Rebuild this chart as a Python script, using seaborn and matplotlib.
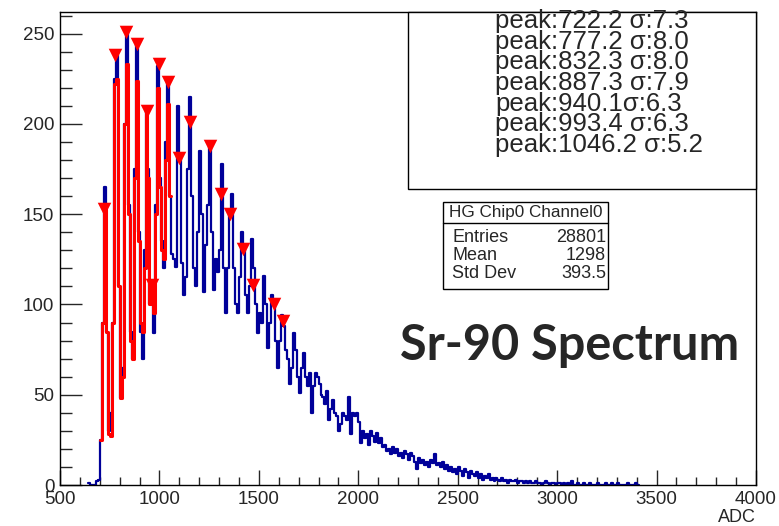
import numpy as np
import pandas as pd
import matplotlib
matplotlib.use('Agg')
import matplotlib.pyplot as plt
import seaborn as sns
from matplotlib.patches import Rectangle
from matplotlib.lines import Line2D

# ---------------- data ----------------
bin_start = 640
bin_width = 10
counts = [1, 0, 0, 0, 2, 3,
          25, 90, 165, 85, 30, 40, 90, 225, 238, 110,
          48, 65, 200, 251, 155, 85, 70, 175, 244, 140,
          85, 70, 130, 207, 175, 100, 111, 84, 155, 232,
          170, 135, 120, 190, 223, 160, 128, 125, 121, 210,
          181, 123, 105, 115, 175, 215, 160, 120, 110, 140,
          185, 150, 107, 133, 155, 188, 140, 108, 125, 118,
          130, 178, 120, 95, 120, 150, 161, 120, 100, 95,
          115, 140, 131, 105, 95, 110, 136, 120, 100, 84,
          95, 90, 116, 100, 76, 90, 105, 100, 80, 65,
          80, 94, 88, 75, 70, 56, 65, 84, 75, 60,
          51, 65, 73, 60, 55, 62, 40, 55, 62, 60,
          56, 50, 49, 45, 52, 36, 42, 47, 40, 38,
          30, 34, 40, 38, 36, 49, 28, 40, 38, 40,
          35, 23, 30, 26, 28, 22, 30, 27, 24, 29,
          23, 26, 21, 22, 19, 20, 17, 21, 18, 20,
          16, 18, 15, 19, 17, 14, 18, 16, 13, 9,
          15, 12, 14, 11, 13, 10, 14, 12, 17, 11,
          12, 10, 13, 9, 11, 8, 10, 7, 9, 6,
          10, 8, 5, 9, 7, 4, 8, 6, 5, 7,
          4, 6, 3, 5, 4, 6, 3, 4, 2, 4,
          3, 2, 4, 2, 3, 1, 3, 2, 2, 3,
          1, 2, 2, 1, 2, 1, 2, 1, 1, 2,
          1, 1, 0, 1, 2, 1, 0, 1, 1, 0,
          1, 1, 0, 1, 0, 1, 0, 2, 0, 0,
          1, 0, 0, 1, 0, 0, 1, 0, 0, 0,
          1, 0, 0, 0, 1, 0, 0, 1, 0, 0,
          1, 0, 0, 0, 0, 1, 0, 0, 0, 1,
          0]

fit_start = 700
fit_counts = [25, 90, 153, 85, 28, 27, 90, 222, 225, 110,
              48, 60, 200, 233, 150, 80, 70, 170, 224, 135,
              90, 85, 120, 207, 170, 100, 111, 95, 150, 220,
              165, 130, 125, 180, 211, 160]

peak_x = [719, 778, 830, 887, 940, 963, 996, 1045, 1098, 1155,
          1254, 1312, 1355, 1419, 1469, 1576, 1620]
peak_y = [153, 238, 251, 244, 207, 111, 233, 223, 181, 201,
          188, 161, 150, 131, 111, 100, 91]

fit_lines = ["peak:722.2 σ:7.3", "peak:777.2 σ:8.0", "peak:832.3 σ:8.0",
             "peak:887.3 σ:7.9", "peak:940.1σ:6.3", "peak:993.4 σ:6.3",
             "peak:1046.2 σ:5.2"]
stats_title = "HG Chip0 Channel0"
stats_names = ["Entries", "Mean", "Std Dev"]
stats_values = ["28801", "1298", "393.5"]

x_major = [500, 1000, 1500, 2000, 2500, 3000, 3500, 4000]
y_major = [0, 50, 100, 150, 200, 250]

# ---------------- figure ----------------
sns.set_style('ticks')
plt.rcParams['font.family'] = ['Liberation Sans', 'DejaVu Sans']

W, H = 779, 526
fig = plt.figure(figsize=(W / 100, H / 100), dpi=100)
ax = fig.add_axes([60 / W, 1 - 485 / H, 696 / W, 473 / H])


def fx(px):
    return px / W


def fy(py):
    return 1 - py / H


edges = [float(bin_start + bin_width * i) for i in range(len(counts) + 1)]
df = pd.DataFrame({'adc': [e + bin_width / 2 for e in edges[:-1]],
                   'n': [float(c) for c in counts]})
sns.histplot(data=df, x='adc', weights='n', bins=edges, element='step', fill=False,
             color='#000099', linewidth=1.6, ax=ax, zorder=2)

fedges = [float(fit_start + bin_width * i) for i in range(len(fit_counts) + 1)]
dff = pd.DataFrame({'adc': [e + bin_width / 2 for e in fedges[:-1]],
                    'n': [float(c) for c in fit_counts]})
sns.histplot(data=dff, x='adc', weights='n', bins=fedges, element='step', fill=False,
             color='#ff0000', linewidth=2.2, ax=ax, zorder=3)

dfp = pd.DataFrame({'x': peak_x, 'y': peak_y})
sns.scatterplot(data=dfp, x='x', y='y', marker='v', s=95, color='#ff0000',
                linewidth=0, ax=ax, zorder=5, legend=False)

ax.set_xlim(500, 4000)
ax.set_ylim(0, 262)
ax.set_xlabel('')
ax.set_ylabel('')
ax.set_xticks(x_major)
ax.set_xticks(np.arange(500, 4001, 100), minor=True)
ax.set_yticks(y_major)
ax.set_yticks(np.arange(0, 261, 10), minor=True)
ax.set_xticklabels([str(v) for v in x_major])
ax.set_yticklabels([str(v) for v in y_major])
ax.tick_params(axis='x', which='major', direction='in', length=11, width=1, labelsize=13.5, pad=4)
ax.tick_params(axis='x', which='minor', direction='in', length=5.8, width=1)
ax.tick_params(axis='y', which='major', direction='in', length=15.5, width=1, labelsize=13.5, pad=4)
ax.tick_params(axis='y', which='minor', direction='in', length=8.5, width=1)
for s in ax.spines.values():
    s.set_visible(True)
    s.set_color('black')
    s.set_linewidth(1.0)

fig.text(fx(756), fy(518), 'ADC', ha='right', va='center', fontsize=13)

# fit result box
fig.add_artist(Rectangle((fx(408), fy(189)), (756 - 408) / W, (189 - 12) / H,
                         transform=fig.transFigure, facecolor='white',
                         edgecolor='black', linewidth=1.0, zorder=3))
base0 = 28.3
step = 20.6
for i, t in enumerate(fit_lines):
    fig.text(fx(495), fy(base0 + i * step), t, ha='left', va='baseline',
             fontsize=18.5, zorder=4)

# stats box
fig.add_artist(Rectangle((fx(443), fy(289)), (608 - 443) / W, (289 - 202) / H,
                         transform=fig.transFigure, facecolor='white',
                         edgecolor='black', linewidth=1.0, zorder=3))
fig.add_artist(Line2D([fx(443), fx(608)], [fy(223.3), fy(223.3)],
                      transform=fig.transFigure, color='black', linewidth=1.0, zorder=4))
fig.text(fx(525.5), fy(212.5), stats_title, ha='center', va='center', fontsize=12.3, zorder=4)
row_y = [237, 255.5, 274]
for yy, n, v in zip(row_y, stats_names, stats_values):
    fig.text(fx(452.5), fy(yy), n, ha='left', va='center', fontsize=13, zorder=4)
    fig.text(fx(606), fy(yy), v, ha='right', va='center', fontsize=13, zorder=4)

fig.text(fx(400), fy(360), 'Sr-90 Spectrum', ha='left', va='baseline',
         family=['Lato', 'DejaVu Sans'], fontweight='bold', fontsize=35, zorder=4)

fig.savefig('out.png', dpi=100)
